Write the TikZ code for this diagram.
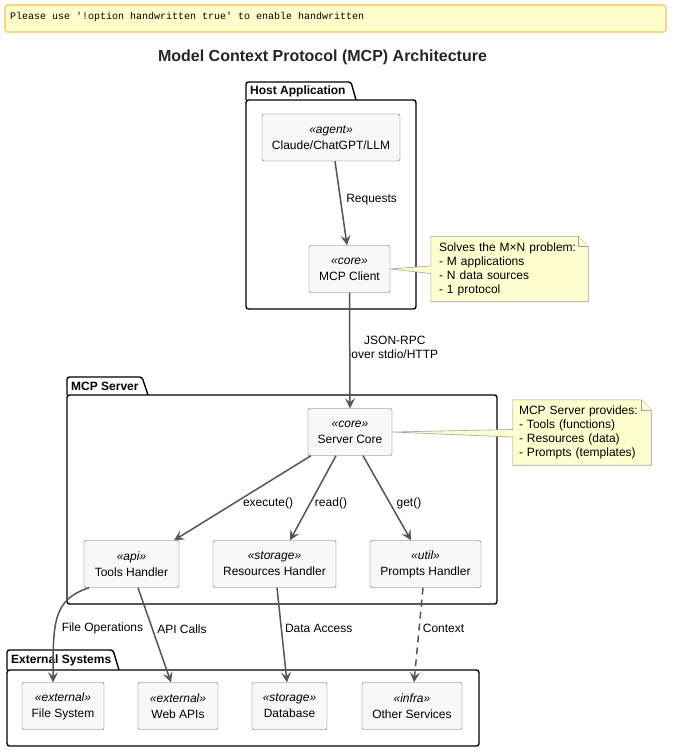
\documentclass[tikz,border=0pt]{standalone}
\usepackage{fontspec}
\setmainfont{Liberation Sans}
\newfontfamily\monofont{Liberation Mono}
\usetikzlibrary{arrows.meta,backgrounds}

\definecolor{linegray}{HTML}{50565E}
\definecolor{boxfill}{HTML}{F6F8FA}
\definecolor{boxline}{HTML}{5E6670}
\definecolor{notefill}{HTML}{FEFECE}
\definecolor{noteline}{HTML}{A0A0A0}
\definecolor{warnfill}{HTML}{FFFFCC}
\definecolor{warnline}{HTML}{FFD47F}

\tikzset{
    comp/.style={draw=boxline, fill=boxfill, rounded corners=2pt, align=center,
        minimum height=47pt, inner sep=0pt, font=\fontsize{12}{16}\selectfont},
    pkg/.style={draw=black, line width=1.4pt, fill=white, rounded corners=2.5pt},
    pkgtitle/.style={anchor=west, inner sep=0pt, font=\fontsize{12}{14}\selectfont\bfseries},
    note/.style={align=left, inner sep=0pt, font=\fontsize{12}{14}\selectfont},
    notebox/.style={draw=noteline, fill=notefill, line width=0.6pt},
    flow/.style={color=linegray, line width=1.5pt,
        -{Stealth[length=10pt,width=10pt,inset=4pt]}},
    lbl/.style={inner sep=0pt, font=\fontsize{12}{14}\selectfont, text=black},
}
\newcommand{\stereo}[1]{\textit{«#1»}}

\begin{document}
\begin{tikzpicture}[x=1pt,y=-1pt]
    \useasboundingbox (0,0) rectangle (672,752);

    % warning banner and title
    \draw[draw=warnline, fill=warnfill, line width=1.8pt, rounded corners=3pt]
        (5,5) rectangle (666,32);
    \node[anchor=west, inner sep=0pt, font=\monofont\fontsize{10}{12}\selectfont]
        (warn) at (10,17) {Please use '!option handwritten true' to enable handwritten};
    \node[font=\fontsize{16}{18}\selectfont\bfseries, text=black!85] (title) at (322.5,57)
        {Model Context Protocol (MCP) Architecture};

    % components
    \node[comp, minimum width=138pt] (agent) at (331,137.5) {\stereo{agent}\\Claude/ChatGPT/LLM};
    \node[comp, minimum width=81pt] (client) at (349.5,269) {\stereo{core}\\MCP Client};
    \node[comp, minimum width=84pt] (core) at (350,432) {\stereo{core}\\Server Core};
    \node[comp, minimum width=95pt] (tools) at (131.5,564) {\stereo{api}\\Tools Handler};
    \node[comp, minimum width=123pt] (resources) at (274.5,564) {\stereo{storage}\\Resources Handler};
    \node[comp, minimum width=111pt] (prompts) at (425.5,564) {\stereo{util}\\Prompts Handler};
    \node[comp, minimum width=82pt] (filesys) at (63,706) {\stereo{external}\\File System};
    \node[comp, minimum width=80pt] (webapis) at (178,706) {\stereo{external}\\Web APIs};
    \node[comp, minimum width=75pt] (database) at (289.5,706) {\stereo{storage}\\Database};
    \node[comp, minimum width=100pt] (other) at (412,706) {\stereo{infra}\\Other Services};

    % notes
    \node[note, minimum width=157pt, minimum height=65pt, text width=141pt] (mxn) at (509.5,269)
        {Solves the M×N problem:\\- M applications\\- N data sources\\- 1 protocol};
    \node[note, minimum width=138pt, minimum height=65pt, text width=126pt] (provides) at (582,432.5)
        {MCP Server provides:\\- Tools (functions)\\- Resources (data)\\- Prompts (templates)};

    \begin{pgfonlayer}{background}
        \fill[white] (0,0) rectangle (672,752);
        % packages
        \draw[pkg] (246,100) -- (246,82) -- (351,82) -- (356,100);
        \draw[pkg] (246,100) rectangle (416,309);
        \node[pkgtitle] (host) at (250,91) {Host Application};
        \draw[pkg] (67,395) -- (67,377) -- (142,377) -- (148,395);
        \draw[pkg] (67,395) rectangle (497,604);
        \node[pkgtitle] (server) at (71,386) {MCP Server};
        \draw[pkg] (7,670) -- (7,650) -- (113,650) -- (119,670);
        \draw[pkg] (7,670) rectangle (479,746);
        \node[pkgtitle] (external) at (11,660) {External Systems};
        % note shapes
        \foreach \n/\c in {mxn/client, provides/core} {
            \draw[notebox] (\n.north west) -- ([xshift=-10pt]\n.north east)
                -- ([yshift=-10pt]\n.north east) -- (\n.south east) -- (\n.south west)
                -- ([yshift=-4.5pt]\n.west) -- (\c.east) -- ([yshift=3pt]\n.west) -- cycle;
            \draw[notebox] ([xshift=-10pt]\n.north east) -- ([xshift=-10pt,yshift=-10pt]\n.north east)
                -- ([yshift=-10pt]\n.north east);
        }
    \end{pgfonlayer}

    % connectors
    \path[flow]
        ([xshift=4pt]agent.south)
            edge node[lbl, pos=0.46, right=5pt] {Requests} ([xshift=-2.5pt]client.north)
        (client.south)
            edge node[lbl, pos=0.47, right=1pt, align=center] {JSON-RPC\\over stdio/HTTP} (core.north)
        ([xshift=-39pt]core.south)
            edge node[lbl, pos=0.56, right=8pt] {execute()} ([xshift=42.5pt]tools.north)
        ([xshift=-14pt]core.south)
            edge node[lbl, pos=0.56, right=4pt] {read()} ([xshift=15.5pt]resources.north)
        ([xshift=13pt]core.south)
            edge node[lbl, pos=0.56, right=6pt] {get()} ([xshift=-14.5pt]prompts.north)
        ([xshift=6.5pt]tools.south)
            edge node[lbl, pos=0.44, right=4pt] {API Calls} ([xshift=-7pt]webapis.north)
        ([xshift=2.5pt]resources.south)
            edge node[lbl, pos=0.43, right=3pt] {Data Access} ([xshift=-2.5pt]database.north)
        ([xshift=-2.5pt]prompts.south)
            edge[dash pattern=on 7pt off 5pt] node[lbl, pos=0.43, right=3pt] {Context} ([xshift=2pt]other.north);
    \draw[flow] ([xshift=-42.5pt]tools.south) .. controls +(-36,12) and +(0,-60) .. ([xshift=-10pt]filesys.north)
        node[lbl, anchor=west] at (61,628) {File Operations};
\end{tikzpicture}
\end{document}
